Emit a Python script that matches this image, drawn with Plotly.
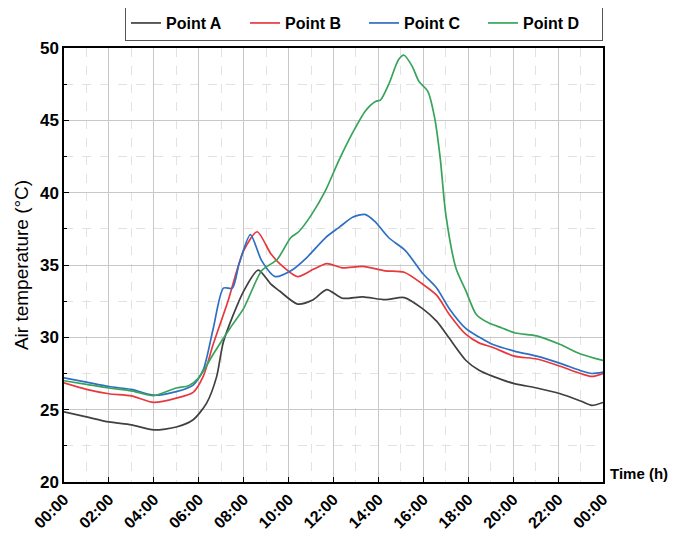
import plotly.graph_objects as go

hours_a = [0, 1, 2, 3, 4, 5, 5.75, 6.35, 6.8, 7.1, 8.0, 8.65, 9.2, 9.6, 10.4, 11.1, 11.7, 12.4, 13.3, 14.3,
           15.15, 15.95, 16.6, 17.15, 17.9, 18.5, 19.1, 20.05, 21.05, 22.1, 23.0, 23.5, 24]
temp_a = [24.85, 24.5, 24.15, 23.95, 23.6, 23.8, 24.3, 25.45, 27.3, 29.7, 33.2, 34.65, 33.7, 33.2, 32.3, 32.6,
          33.3, 32.7, 32.8, 32.6, 32.75, 32.0, 31.1, 29.95, 28.4, 27.7, 27.3, 26.8, 26.5, 26.1, 25.6, 25.3, 25.5]

hours_b = [0, 1, 2, 3, 4, 5, 5.75, 6.2, 6.65, 7.3, 8.0, 8.6, 9.2, 9.6, 10.4, 11.1, 11.7, 12.4, 13.3, 14.3,
           15.15, 15.95, 16.6, 17.15, 17.9, 18.5, 19.1, 20.05, 21.05, 22.1, 23.0, 23.5, 24]
temp_b = [26.85, 26.4, 26.1, 25.95, 25.5, 25.8, 26.2, 27.3, 29.55, 32.5, 36.0, 37.3, 35.8, 35.1, 34.2, 34.7,
          35.1, 34.8, 34.9, 34.6, 34.5, 33.7, 32.9, 31.6, 30.2, 29.6, 29.3, 28.7, 28.5, 28.0, 27.5, 27.3, 27.5]

hours_c = [0, 1, 2, 3, 4, 5, 5.75, 6.2, 6.65, 7.1, 7.5, 7.8, 8.3, 8.8, 9.4, 10.1, 10.8, 11.65, 12.25, 12.85,
           13.4, 13.85, 14.45, 15.2, 15.95, 16.6, 17.15, 17.9, 18.5, 19.1, 20.05, 21.05, 22.1, 23.0, 23.5, 24]
temp_c = [27.2, 26.9, 26.6, 26.4, 26.0, 26.25, 26.7, 27.75, 30.65, 33.4, 33.4, 35.1, 37.1, 35.3, 34.2, 34.6,
          35.5, 36.9, 37.6, 38.3, 38.5, 38.0, 36.9, 36.0, 34.45, 33.4, 32.0, 30.6, 30.0, 29.5, 29.05, 28.7,
          28.2, 27.7, 27.5, 27.6]

hours_d = [0, 1, 2, 3, 4, 5, 5.55, 6.0, 6.65, 7.4, 8.0, 8.8, 9.5, 10.1, 10.45, 11.03, 11.63, 12.23, 12.82,
           13.42, 13.87, 14.09, 14.46, 14.9, 15.14, 15.5, 15.8, 16.2, 16.5, 16.75, 17.0, 17.45, 17.9, 18.35,
           18.9, 19.5, 20.1, 21.05, 22.1, 23.0, 24]
temp_d = [27.0, 26.75, 26.5, 26.3, 25.97, 26.5, 26.65, 27.2, 28.85, 30.65, 32.0, 34.6, 35.4, 36.9, 37.3,
          38.5, 40.1, 42.2, 44.05, 45.65, 46.3, 46.4, 47.5, 49.2, 49.5, 48.75, 47.7, 47.0, 45.2, 42.4, 38.5,
          34.8, 33.2, 31.6, 31.0, 30.65, 30.3, 30.1, 29.5, 28.85, 28.4]

series_names = ["Point A", "Point B", "Point C", "Point D"]
colors = ["#404040", "#e8383d", "#2e6fc4", "#38a35a"]

tick_hours = [0, 2, 4, 6, 8, 10, 12, 14, 16, 18, 20, 22, 24]
tick_labels = ["00:00", "02:00", "04:00", "06:00", "08:00", "10:00", "12:00", "14:00", "16:00",
               "18:00", "20:00", "22:00", "00:00"]

fig = go.Figure()
for name, xs, ys, col in zip(series_names, [hours_a, hours_b, hours_c, hours_d],
                             [temp_a, temp_b, temp_c, temp_d], colors):
    fig.add_trace(go.Scatter(x=xs, y=ys, name=name, mode="lines",
                             line=dict(color=col, width=1.7, shape="spline", smoothing=0.7)))

font_family = "Liberation Sans, Arial, sans-serif"
fig.update_layout(
    width=678, height=535,
    margin=dict(l=56, r=83, t=40, b=61, autoexpand=False),
    paper_bgcolor="white", plot_bgcolor="white",
    font=dict(family=font_family, color="black"),
    showlegend=True,
    legend=dict(orientation="h", x=1.0, xanchor="right", y=1.016, yanchor="bottom",
                yref="paper", bordercolor="#555555", borderwidth=1,
                font=dict(size=16, family=font_family, color="black", weight="bold"),
                entrywidth=74, itemwidth=30, tracegroupgap=0, bgcolor="white"),
    xaxis=dict(range=[0, 24], tickvals=tick_hours, ticktext=tick_labels, tickangle=-45,
               tickfont=dict(size=16, family=font_family, weight="bold"),
               showline=True, linecolor="black", linewidth=1.5, mirror=True,
               ticks="inside", ticklen=5, tickcolor="black",
               showgrid=True, gridcolor="#c8c8c8", gridwidth=1,
               minor=dict(dtick=1, tick0=0, showgrid=True, gridcolor="#e2e2e2", griddash="dash",
                          ticks=""),
               zeroline=False, automargin=False),
    yaxis=dict(range=[20, 50], dtick=5, tick0=20,
               tickfont=dict(size=17, family=font_family, weight="bold"),
               showline=True, linecolor="black", linewidth=1.5, mirror=True,
               ticks="inside", ticklen=5, tickcolor="black",
               showgrid=True, gridcolor="#c8c8c8", gridwidth=1,
               minor=dict(dtick=2.5, tick0=20, showgrid=True, gridcolor="#e2e2e2", griddash="dash",
                          ticks="inside", ticklen=3, tickcolor="black"),
               title=dict(text="Air temperature (°C)", font=dict(size=19, family=font_family), standoff=6),
               zeroline=False, automargin=False),
)
fig.add_annotation(text="Time (h)", xref="paper", yref="paper", x=1.0, y=0.0, xanchor="left",
                   yanchor="bottom", xshift=5, yshift=-2, showarrow=False,
                   font=dict(size=15, family=font_family, weight="bold", color="black"))

fig.write_html("out.html")
